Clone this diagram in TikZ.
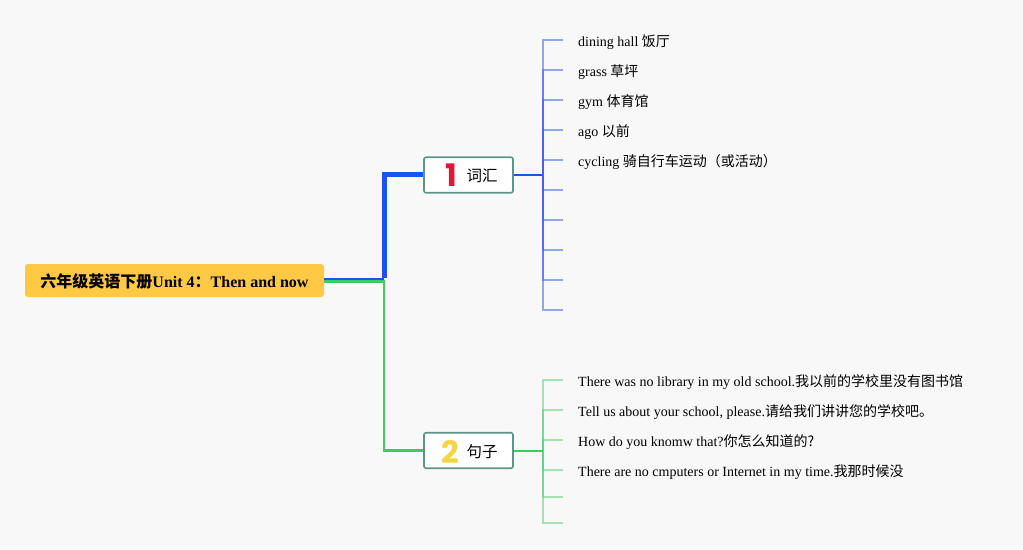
\documentclass[tikz,border=0pt]{standalone}
\usepackage{fontspec}
\setmainfont{Liberation Serif}
\newfontfamily\cjk{Noto Sans CJK SC}
\newfontfamily\numfont{Poppins}
\definecolor{bg}{HTML}{F8F8F8}
\definecolor{rootfill}{HTML}{FFC845}
\definecolor{boxline}{HTML}{5E9488}
\definecolor{bblue}{HTML}{1A53F0}
\definecolor{lblue}{HTML}{3A66E2}
\definecolor{bgreen}{HTML}{3CCB5C}
\definecolor{lgreen}{HTML}{4FD06B}
\definecolor{numred}{HTML}{E0173A}
\definecolor{numyel}{HTML}{F5D547}
\tikzset{
  rootbox/.style={fill=rootfill, rounded corners=3pt, minimum width=299pt, minimum height=33pt, inner sep=0pt, text height=17pt, text depth=2.5pt, font=\fontsize{16}{18}\selectfont\bfseries},
  topicbox/.style={draw=boxline, line width=1.6pt, fill=white, rounded corners=2pt, minimum width=89pt, minimum height=35.5pt, inner sep=0pt},
  numlbl/.style={inner sep=0pt, font=\numfont\fontsize{31}{31}\selectfont\bfseries},
  topiclbl/.style={inner sep=0pt, font=\cjk\fontsize{15.5}{16}\selectfont},
  leaf/.style={anchor=west, inner sep=0pt, font=\fontsize{14}{16}\selectfont},
  bluetick/.style={draw=lblue, line width=1.8pt, draw opacity=0.55},
  greentick/.style={draw=lgreen, line width=1.8pt, draw opacity=0.5},
}
\begin{document}
\begin{tikzpicture}[x=1pt,y=-1pt]
\fill[bg] (0,0) rectangle (1023,549);
\useasboundingbox (0,0) rectangle (1023,549);

% root
\node[rootbox] (root) at (174.5,280.5) {{\cjk 六年级英语下册}Unit 4{\cjk ：}Then and now};

% topics
\node[topicbox] (n1) at (468.5,175) {};
\node[numlbl, text=numred] (n1num) at (451,175) {1};
\node[topiclbl] (n1txt) at (482,176) {词汇};
\node[topicbox] (n2) at (468.5,450.5) {};
\node[numlbl, text=numyel] (n2num) at (450,451.5) {2};
\node[topiclbl] (n2txt) at (482,452) {句子};

% junctions
\coordinate (ja) at (384,279.3);
\coordinate (jg) at (384,281.5);
\coordinate (bj) at (543,175);
\coordinate (gj) at (543,450.5);

% main branches
\draw[bblue, line width=2pt] (root.east |- ja) -- (ja);
\draw[bblue, line width=5pt] ([yshift=1pt]ja) -- (384,174.5) -- (n1.west |- 0,174.5);
\draw[bgreen, line width=2.5pt] (root.east |- jg) -- (jg) |- (n2.west);
\draw[bblue, line width=2pt] (n1.east) -- (bj);
\draw[bgreen, line width=2pt] (n2.east) -- (gj);

% blue ticks
\foreach \i/\y in {1/40,2/70,3/100,4/130,5/160,6/190,7/220,8/250,9/280,10/310}{
  \coordinate (bt\i) at (563,\y);
  \draw[bluetick] (bj) |- (bt\i);
}
% green ticks
\foreach \i/\y in {1/380,2/410,3/440,4/470,5/497,6/523}{
  \coordinate (gt\i) at (563,\y);
  \draw[greentick] (gj) |- (gt\i);
}

% blue leaves
\node[leaf] (l1) at (578,42) {dining hall {\cjk 饭厅}};
\node[leaf] (l2) at (578,72) {grass {\cjk 草坪}};
\node[leaf] (l3) at (578,102) {gym {\cjk 体育馆}};
\node[leaf] (l4) at (578,132) {ago {\cjk 以前}};
\node[leaf] (l5) at (578,162) {cycling {\cjk 骑自行车运动（或活动）}};

% green leaves
\node[leaf] (s1) at (578,382) {There was no library in my old school.{\cjk 我以前的学校里没有图书馆}};
\node[leaf] (s2) at (578,412) {Tell us about your school, please.{\cjk 请给我们讲讲您的学校吧。}};
\node[leaf] (s3) at (578,442) {How do you knomw that?{\cjk 你怎么知道的?}};
\node[leaf] (s4) at (578,472) {There are no cmputers or Internet in my time.{\cjk 我那时候没}};
\end{tikzpicture}
\end{document}
